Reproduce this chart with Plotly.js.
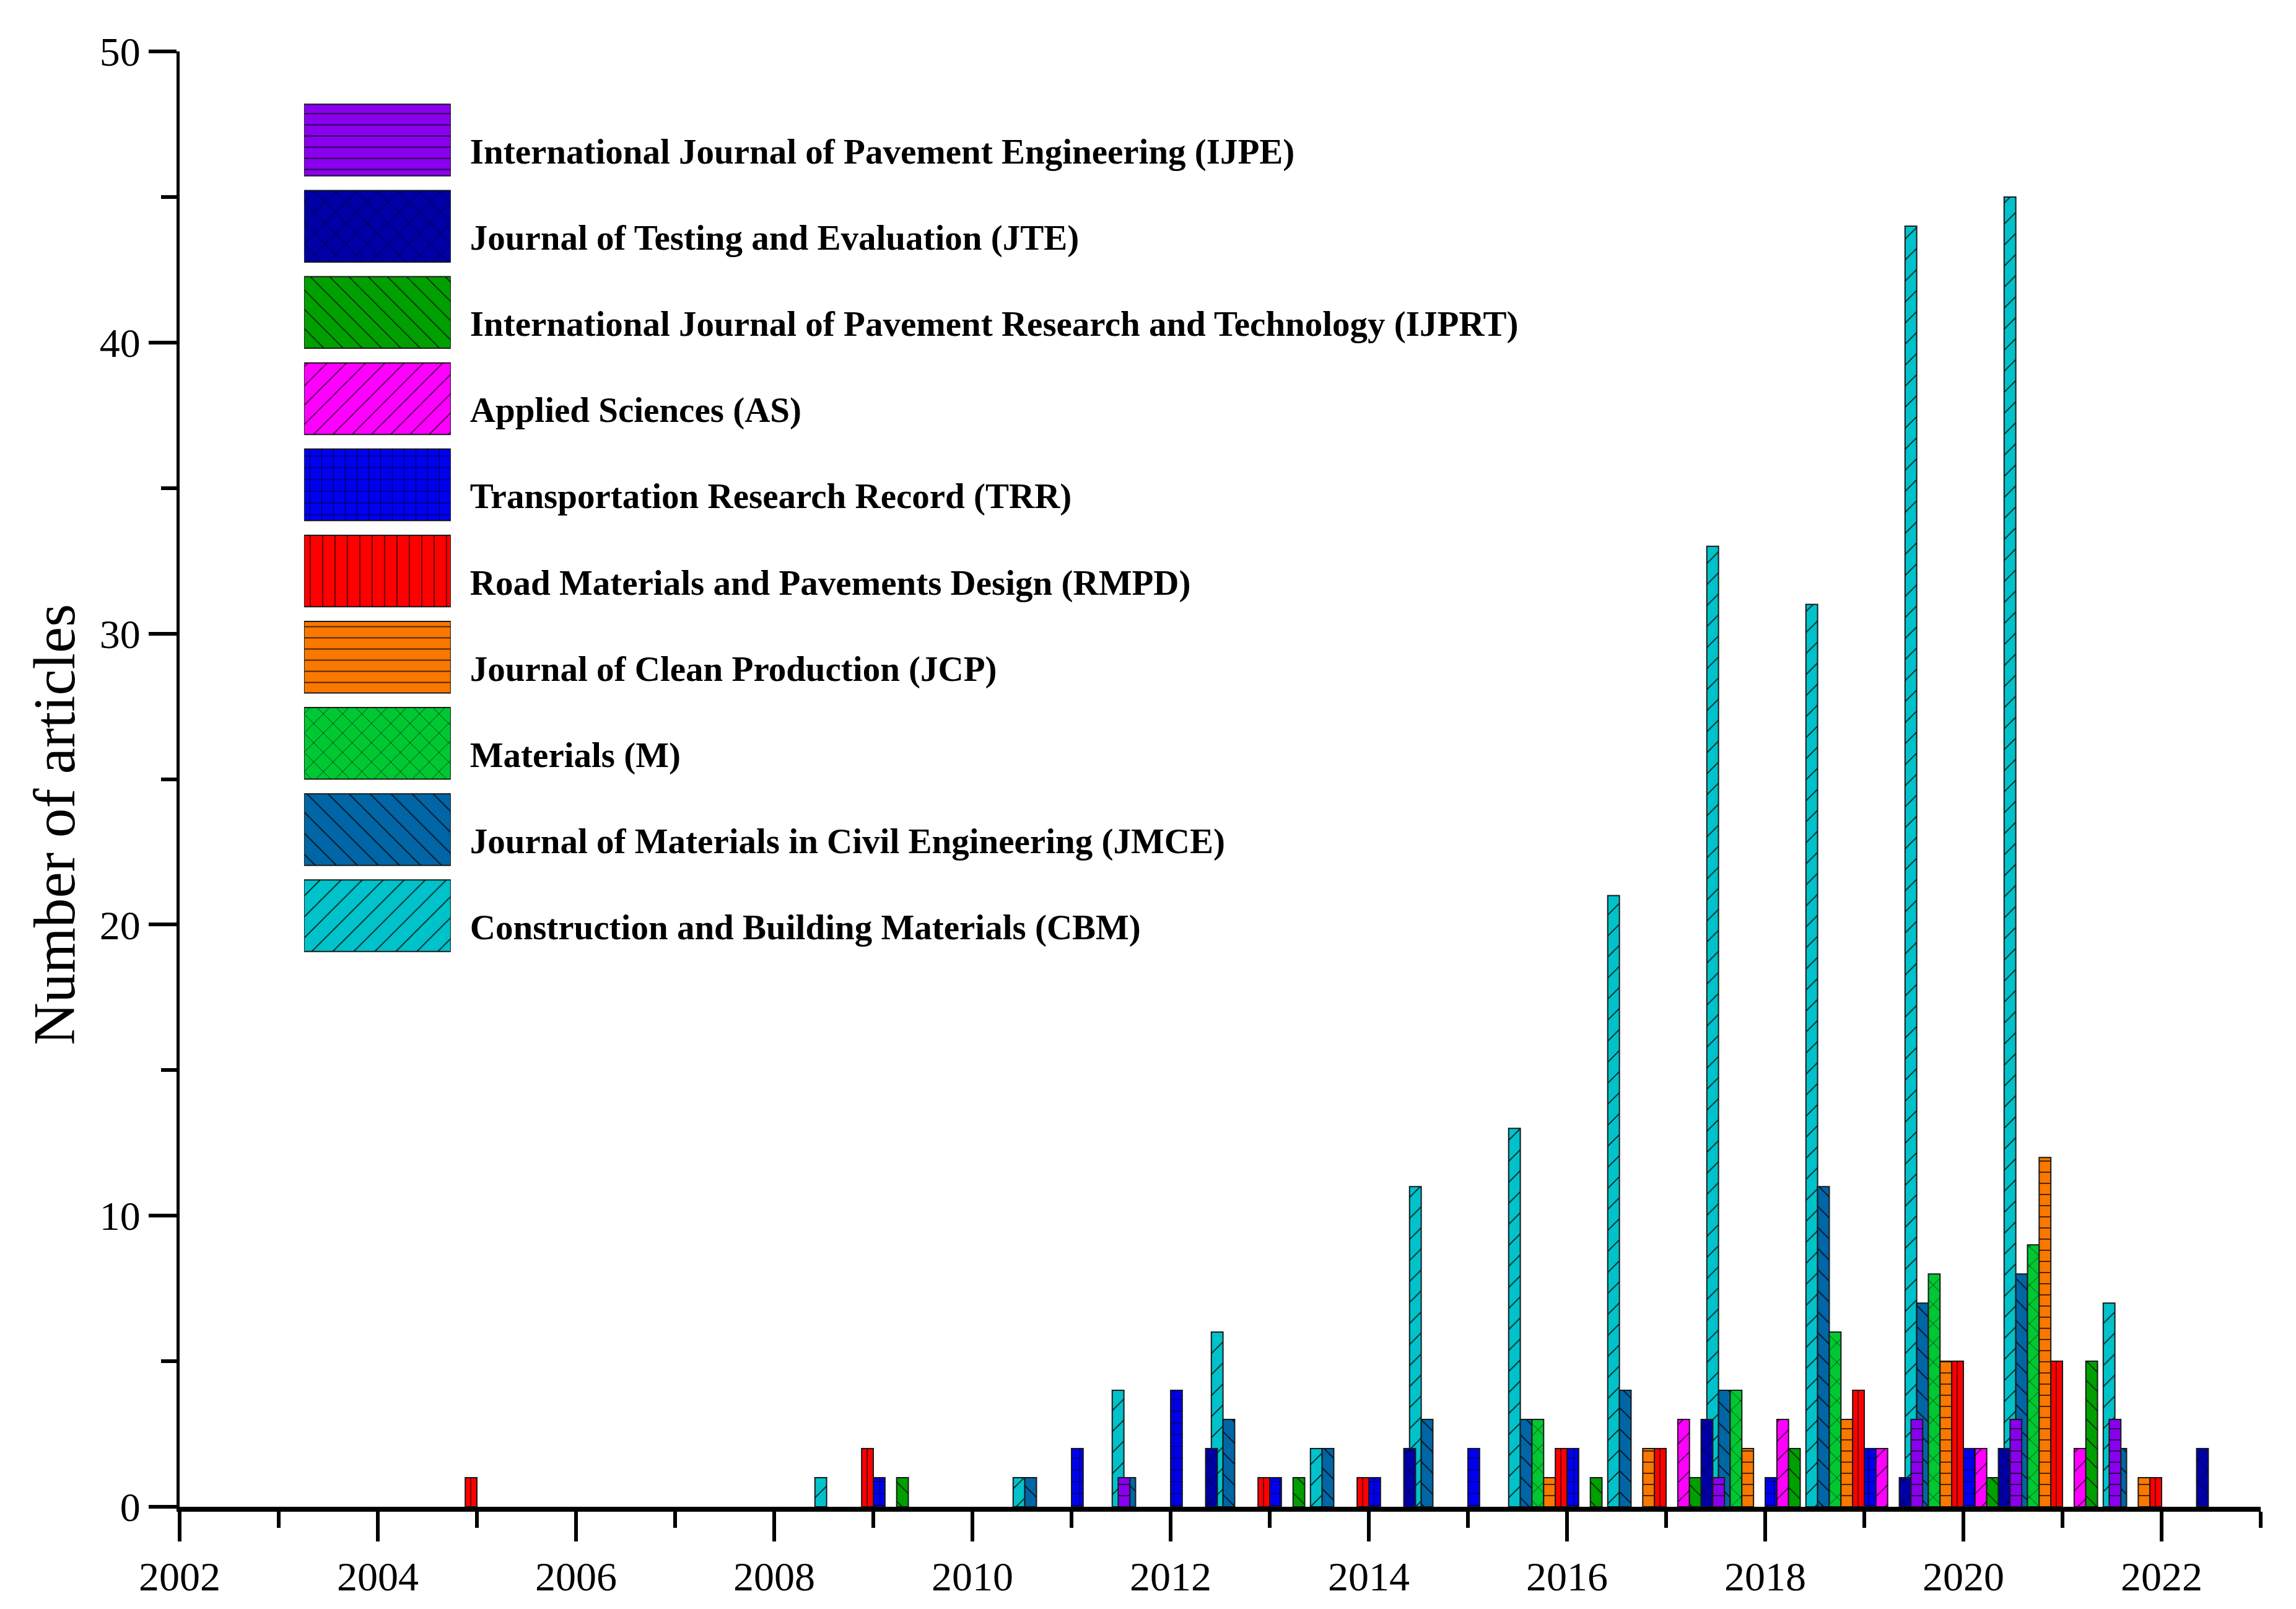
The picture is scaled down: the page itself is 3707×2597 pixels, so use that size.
<!DOCTYPE html>
<html>
<head>
<meta charset="utf-8">
<script src="https://cdn.plot.ly/plotly-3.0.1.min.js"></script>
<style>html,body{margin:0;padding:0;background:#fff}#chart{width:3707px;height:2597px}</style>
</head>
<body>
<div id="chart"></div>
<script>
// ---- data (group year, counts per journal) ----
const years = [2005, 2006, 2007, 2008, 2009, 2010, 2011, 2012, 2013, 2014, 2015, 2016, 2017, 2018, 2019, 2020, 2021, 2022];
const CBM   = [0, 0, 0, 0, 1, 0, 1, 4, 6, 2, 11, 13, 21, 33, 31, 44, 45, 7];
const JMCE  = [0, 0, 0, 0, 0, 0, 1, 1, 3, 2, 3, 3, 4, 4, 11, 7, 8, 2];
const M     = [0, 0, 0, 0, 0, 0, 0, 0, 0, 0, 0, 3, 0, 4, 6, 8, 9, 0];
const JCP   = [0, 0, 0, 0, 0, 0, 0, 0, 0, 0, 0, 1, 2, 2, 3, 5, 12, 1];
const RMPD  = [1, 0, 0, 0, 2, 0, 0, 0, 1, 1, 0, 2, 2, 0, 4, 5, 5, 1];
const TRR   = [0, 0, 0, 0, 1, 0, 2, 4, 1, 1, 2, 2, 0, 1, 2, 2, 0, 0];
const AS    = [0, 0, 0, 0, 0, 0, 0, 0, 0, 0, 0, 0, 3, 3, 2, 2, 2, 0];
const IJPRT = [0, 0, 0, 0, 1, 0, 0, 0, 1, 0, 0, 1, 1, 2, 0, 1, 5, 0];
const JTE   = [0, 0, 0, 0, 0, 0, 0, 2, 0, 2, 0, 0, 3, 0, 1, 2, 0, 2];
const IJPE  = [0, 0, 0, 0, 0, 0, 1, 0, 0, 0, 0, 0, 1, 0, 3, 3, 3, 0];

const journalNames = [
  "Construction and Building Materials (CBM)",
  "Journal of Materials in Civil Engineering (JMCE)",
  "Materials (M)",
  "Journal of Clean Production (JCP)",
  "Road Materials and Pavements Design (RMPD)",
  "Transportation Research Record (TRR)",
  "Applied Sciences (AS)",
  "International Journal of Pavement Research and Technology (IJPRT)",
  "Journal of Testing and Evaluation (JTE)",
  "International Journal of Pavement Engineering (IJPE)"
];
const xTickVals = [2002, 2004, 2006, 2008, 2010, 2012, 2014, 2016, 2018, 2020, 2022];
const yTitle = 'Number of articles';

// ---- styles ----
const seriesValues = [CBM, JMCE, M, JCP, RMPD, TRR, AS, IJPRT, JTE, IJPE];
const styles = [
  {color: '#00C2CA', shape: '/',  size: 24, sol: 0.07},
  {color: '#0066A6', shape: '\\', size: 24, sol: 0.07},
  {color: '#00C832', shape: 'x',  size: 22, sol: 0.07},
  {color: '#F97800', shape: '-',  size: 18, sol: 0.09},
  {color: '#FF0000', shape: '|',  size: 20, sol: 0.07},
  {color: '#0000EE', shape: '+',  size: 19, sol: 0.09},
  {color: '#FF00FF', shape: '/',  size: 22, sol: 0.07},
  {color: '#00A000', shape: '\\', size: 22, sol: 0.07},
  {color: '#0000A6', shape: 'x',  size: 24, sol: 0.07},
  {color: '#8A00EE', shape: '-',  size: 18, sol: 0.09}
];
const BAR_W = 0.1178;
const FONT = 'Liberation Serif, Times New Roman, serif';

function makeMarker(st) {
  return {color: st.color, line: {color: '#1a1a1a', width: 2},
    pattern: {shape: st.shape, size: st.size, solidity: st.sol,
      fgcolor: '#000000', bgcolor: st.color, fgopacity: 0.85, fillmode: 'replace'}};
}

const traces = [];
seriesValues.forEach((vals, i) => {
  traces.push({
    type: 'bar', name: journalNames[i],
    x: years, y: vals.map(v => v === 0 ? null : v),
    width: BAR_W, offset: (i - 5) * BAR_W,
    xaxis: 'x', yaxis: 'y', showlegend: false,
    marker: makeMarker(styles[i])
  });
});
// key (legend) drawn as a small subplot of swatches
seriesValues.forEach((vals, i) => {
  traces.push({
    type: 'bar', orientation: 'h', name: journalNames[i],
    y: [journalNames[i]], x: [1], base: 0,
    width: 0.83, offset: -0.415,
    xaxis: 'x2', yaxis: 'y2', showlegend: false, hoverinfo: 'skip',
    marker: makeMarker(styles[i])
  });
});

const layout = {
  width: 3707, height: 2597,
  paper_bgcolor: '#ffffff', plot_bgcolor: '#ffffff',
  margin: {l: 290, r: 57, t: 83, b: 165},
  barmode: 'overlay',
  showlegend: false,
  font: {family: FONT, color: '#000'},
  xaxis: {
    domain: [0, 1], anchor: 'y',
    range: [2002, 2023], tickvals: xTickVals, ticktext: xTickVals.map(String),
    showline: true, linecolor: '#000', linewidth: 8,
    ticks: 'outside', ticklen: 48, tickwidth: 6, tickcolor: '#000',
    minor: {dtick: 1, tick0: 2002, ticks: 'outside', ticklen: 26, tickwidth: 6, tickcolor: '#000', showgrid: false},
    showgrid: false, zeroline: false,
    tickfont: {family: FONT, size: 66, color: '#000'}
  },
  yaxis: {
    domain: [0, 1], anchor: 'x',
    range: [0, 50], dtick: 10, tick0: 0,
    showline: true, linecolor: '#000', linewidth: 5,
    ticks: 'outside', ticklen: 45, tickwidth: 6, tickcolor: '#000',
    minor: {dtick: 5, ticks: 'outside', ticklen: 25, tickwidth: 6, tickcolor: '#000', showgrid: false},
    showgrid: false, zeroline: false,
    tickfont: {family: FONT, size: 66, color: '#000'}
  },
  annotations: [{
    text: yTitle, xref: 'paper', yref: 'paper',
    x: -0.0601, y: 0.4687, xanchor: 'center', yanchor: 'middle',
    textangle: -90, showarrow: false,
    font: {family: FONT, size: 95, color: '#000'}
  }],
  xaxis2: {
    domain: [0.0598, 0.1303], anchor: 'y2', range: [0, 1], visible: false, fixedrange: true
  },
  yaxis2: {
    domain: [0.3765, 0.9687], anchor: 'x2', side: 'right',
    type: 'category', categoryorder: 'array', categoryarray: journalNames.slice().reverse(),
    autorange: 'reversed',
    showline: false, showgrid: false, zeroline: false, ticks: '',
    ticklabelstandoff: 30, ticklabelshift: -18,
    tickfont: {family: FONT, size: 57, color: '#000', weight: 'bold'}
  }
};

Plotly.newPlot('chart', traces, layout, {staticPlot: true, displayModeBar: false});
</script>
</body>
</html>
